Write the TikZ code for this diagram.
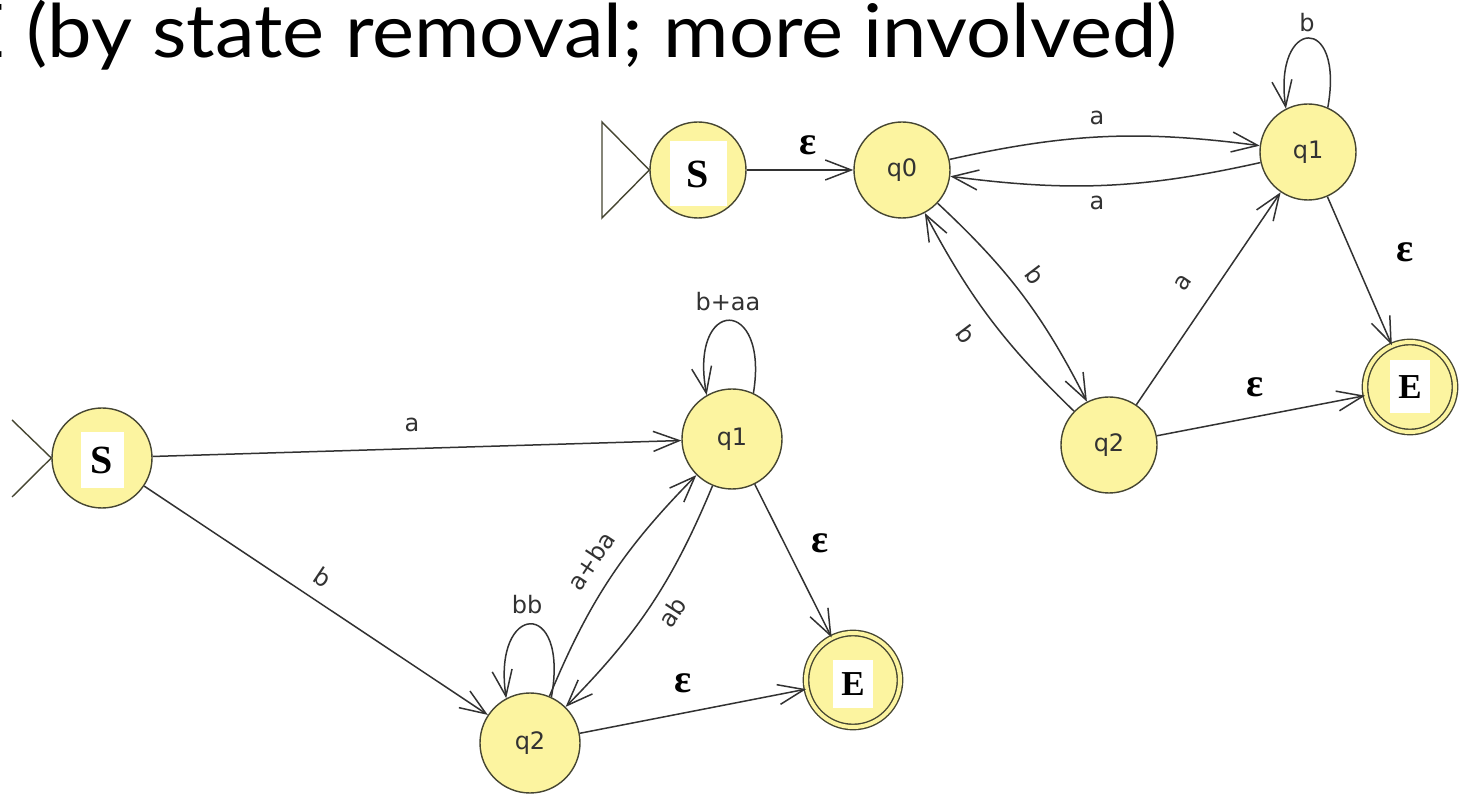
\documentclass[tikz,border=0pt]{standalone}
\usepackage{fontspec}
\setmainfont{Liberation Serif}
\newfontfamily\titlefont{Lato}
\newfontfamily\labfont{DejaVu Sans}
\usetikzlibrary{arrows.meta}
\definecolor{statefill}{RGB}{252,244,160}
\definecolor{stateline}{RGB}{70,70,50}
\definecolor{edgecol}{RGB}{50,50,50}
\begin{document}
\begin{tikzpicture}[x=1pt,y=1pt,
  state/.style={circle, draw=stateline, fill=statefill, line width=1.4pt, minimum size=96pt, inner sep=0pt, font=\labfont\fontsize{24}{24}\selectfont, text=edgecol},
  bigstate/.style={state, minimum size=100pt},
  accept/.style={double=statefill, double distance=4pt, minimum size=90pt},
  bigaccept/.style={double=statefill, double distance=4pt, minimum size=94pt},
  edge/.style={draw=edgecol, line width=1.5pt, -{Straight Barb[length=26pt,width=20pt,line width=1.5pt]}},
  initline/.style={draw=stateline, line width=1.4pt},
  lab/.style={font=\labfont\fontsize{24}{24}\selectfont, text=edgecol, inner sep=0pt},
  eps/.style={font=\bfseries\fontsize{40}{40}\selectfont, inner sep=0pt},
  namebox/.style={fill=white, inner sep=0pt, font=\bfseries\fontsize{40}{40}\selectfont},
  ebox/.style={fill=white, inner sep=0pt, font=\bfseries\fontsize{35}{35}\selectfont}
]
\useasboundingbox[fill=white] (0,0) rectangle (1476,793);

% title
\node[anchor=base east, inner sep=0pt] (title) at (1178,735) {\scalebox{1.075}[1]{\titlefont\fontsize{74}{74}\selectfont E (by state removal; more involved)}};

% ---------- top-right automaton ----------
\node[state] (S1) at (698,623) {};
\node[namebox, minimum width=57pt, minimum height=65pt] (S1lab) at (698,619) {S};
\node[state] (q0) at (902,623) {q0};
\node[state] (q1) at (1308,641) {q1};
\node[state] (q2) at (1109,348) {q2};
\node[state, accept] (E1) at (1410,406) {};
\node[ebox, minimum width=40pt, minimum height=53pt] (E1lab) at (1410,406) {E};

\coordinate (t1) at (602,671);
\coordinate (t2) at (602,575);
\draw[initline] (S1.west) -- (t1) -- (t2) -- cycle;

\draw[edge] (S1) -- (q0);
\draw[edge] (q0) to[bend left=10] (q1);
\draw[edge] (q1) to[bend left=10] (q0);
\draw[edge] (q0) to[bend left=10] (q2);
\draw[edge] (q2) to[bend left=9] (q0);
\draw[edge] (q2) -- (q1);
\draw[edge] (q1) -- (E1);
\draw[edge] (q2) -- (E1);
\draw[edge] (q1.66) .. controls +(17,95) and +(-13,91) .. (q1.117);

\node[eps] (e1) at (808,648) {ε};
\node[lab] (l1) at (1097,675) {a};
\node[lab] (l2) at (1097,590) {a};
\node[lab] (l3) at (1307,770) {b};
\node[eps] (e2) at (1405,541) {ε};
\node[eps] (e3) at (1255,406) {ε};
\node[lab, rotate=55.7] (l4) at (1183,510) {a};
\node[lab, rotate=-53] (l5) at (1035,518) {b};
\node[lab, rotate=-53] (l6) at (966,459) {b};

% ---------- bottom-left automaton ----------
\node[bigstate] (S2) at (102,335) {};
\node[namebox, minimum width=43pt, minimum height=56pt] (S2lab) at (102,333) {S};
\node[bigstate] (p1) at (732,354) {q1};
\node[bigstate] (p2) at (530,50) {q2};
\node[bigstate, bigaccept] (E2) at (853,113) {};
\node[ebox, minimum width=40pt, minimum height=48pt] (E2lab) at (853,109) {E};

\coordinate (i1) at (12,373);
\coordinate (i2) at (12,296);
\draw[initline] (i1) -- (S2.west) -- (i2);

\draw[edge] (S2) -- (p1);
\draw[edge] (S2) -- (p2);
\draw[edge] (p2) to[bend left=11] (p1);
\draw[edge] (p1) to[bend left=11] (p2);
\draw[edge] (p1) -- (E2);
\draw[edge] (p2) -- (E2);
\draw[edge] (p1.65) .. controls +(16,97) and +(-18,99) .. (p1.120);
\draw[edge] (p2.65) .. controls +(18,100) and +(-14,96) .. (p2.118);

\node[lab] (m1) at (412,368) {a};
\node[lab, rotate=-33.8] (m2) at (323,216) {b};
\node[lab] (m3) at (527,188) {bb};
\node[lab, rotate=56.5] (m4) at (591,232) {a+ba};
\node[lab, rotate=56.5] (m5) at (672,181) {ab};
\node[lab] (m6) at (728,491) {b+aa};
\node[eps] (e4) at (820,250) {ε};
\node[eps] (e5) at (683,110) {ε};
\end{tikzpicture}
\end{document}
